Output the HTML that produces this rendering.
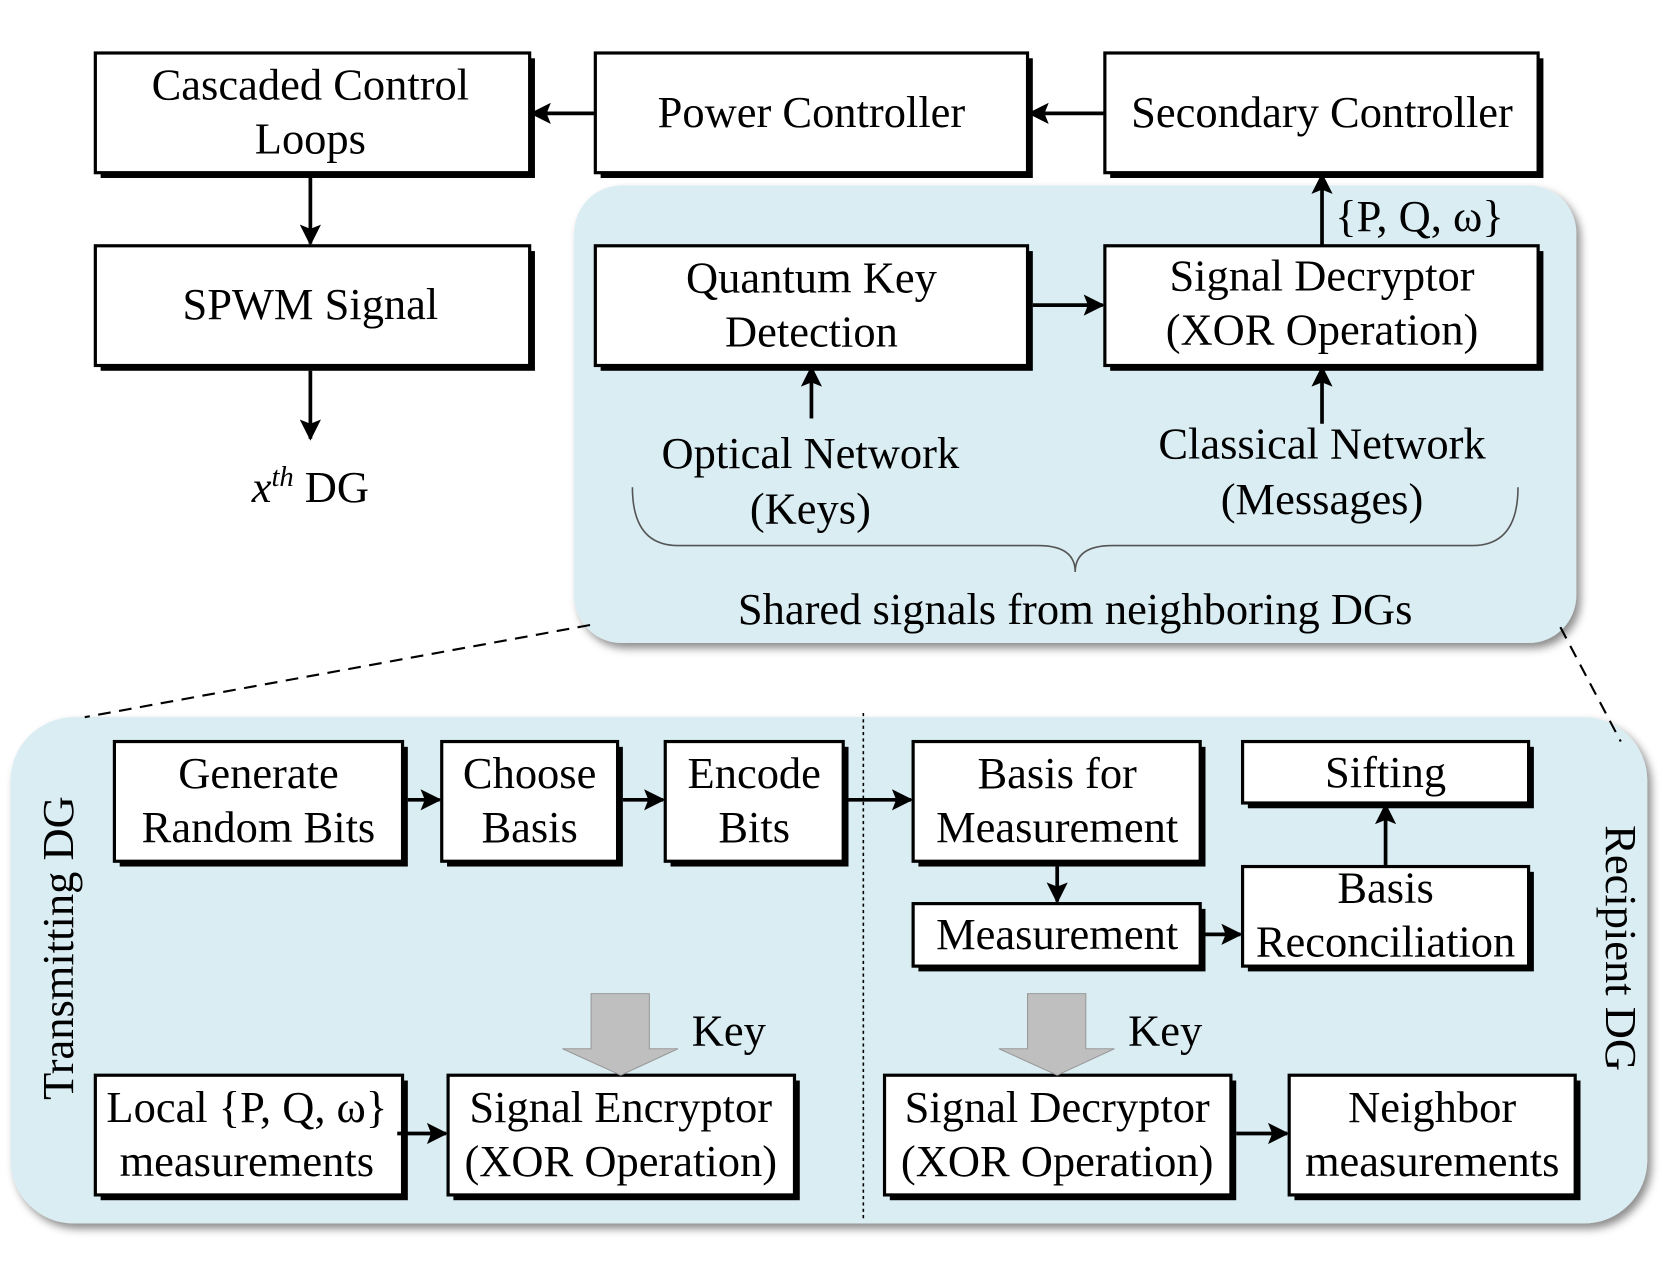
<!DOCTYPE html>
<html><head><meta charset="utf-8"><style>html,body{margin:0;padding:0;background:#fff}svg{display:block}</style></head>
<body>
<svg width="1661" height="1262" viewBox="0 0 1568 1191.3" xmlns="http://www.w3.org/2000/svg" font-family="'Liberation Serif', serif" font-size="42" text-anchor="middle">
<defs>
<filter id="sh" x="-5%" y="-5%" width="115%" height="115%"><feDropShadow dx="4" dy="5" stdDeviation="4" flood-color="#000" flood-opacity="0.45"/></filter>
<marker id="a2" viewBox="0 0 10 10" markerWidth="20" markerHeight="20" refX="9" refY="5" orient="auto" markerUnits="userSpaceOnUse"><path d="M0,0 L10,5 L0,10 L2,5 Z" fill="#000"/></marker>
</defs>
<rect x="542" y="175" width="946" height="432" rx="45" fill="#daedf3" filter="url(#sh)"/>
<rect x="10" y="677" width="1545" height="478" rx="60" fill="#daedf3" filter="url(#sh)"/>
<g stroke="#000" stroke-width="2" stroke-dasharray="12,8" fill="none">
<line x1="557" y1="590" x2="80" y2="677"/>
<line x1="1473" y1="592" x2="1530" y2="700"/>
</g>
<line x1="815" y1="673" x2="815" y2="1152" stroke="#000" stroke-width="1.5" stroke-dasharray="3,3"/>
<path d="M597,460 Q597,515 640,515 L980,515 Q1015,515 1015,540 Q1015,515 1050,515 L1390,515 Q1433,515 1433,460" fill="none" stroke="#555" stroke-width="1.5"/>
<g fill="#000">
<rect x="95" y="55" width="410" height="113"/><rect x="567" y="55" width="408" height="113"/><rect x="1048" y="55" width="409" height="113"/>
<rect x="95" y="237" width="410" height="113"/><rect x="567" y="237" width="408" height="113"/><rect x="1048" y="237" width="409" height="113"/>
<rect x="113" y="705" width="272" height="113"/><rect x="422" y="705" width="166" height="113"/><rect x="633" y="705" width="168" height="113"/>
<rect x="867" y="705" width="271" height="113"/><rect x="1178" y="705" width="270" height="58"/><rect x="1178" y="823" width="270" height="94"/>
<rect x="867" y="858" width="271" height="59"/>
<rect x="95" y="1020" width="290" height="113"/><rect x="428" y="1020" width="327" height="113"/>
<rect x="840" y="1020" width="327" height="113"/><rect x="1222" y="1020" width="270" height="113"/>
</g>
<g fill="#fff" stroke="#000" stroke-width="3">
<rect x="90" y="50" width="410" height="113"/><rect x="562" y="50" width="408" height="113"/><rect x="1043" y="50" width="409" height="113"/>
<rect x="90" y="232" width="410" height="113"/><rect x="562" y="232" width="408" height="113"/><rect x="1043" y="232" width="409" height="113"/>
<rect x="108" y="700" width="272" height="113"/><rect x="417" y="700" width="166" height="113"/><rect x="628" y="700" width="168" height="113"/>
<rect x="862" y="700" width="271" height="113"/><rect x="1173" y="700" width="270" height="58"/><rect x="1173" y="818" width="270" height="94"/>
<rect x="862" y="853" width="271" height="59"/>
<rect x="90" y="1015" width="290" height="113"/><rect x="423" y="1015" width="327" height="113"/>
<rect x="835" y="1015" width="327" height="113"/><rect x="1217" y="1015" width="270" height="113"/>
</g>
<g stroke="#000" stroke-width="3.5" fill="none" marker-end="url(#a2)">
<line x1="562" y1="107" x2="502" y2="107"/>
<line x1="1043" y1="107" x2="972" y2="107"/>
<line x1="293" y1="168" x2="293" y2="230"/>
<line x1="293" y1="350" x2="293" y2="414"/>
<line x1="1248" y1="232" x2="1248" y2="165"/>
<line x1="975" y1="288" x2="1041" y2="288"/>
<line x1="766" y1="395" x2="766" y2="347"/>
<line x1="1248" y1="400" x2="1248" y2="347"/>
<line x1="385" y1="755" x2="415" y2="755"/>
<line x1="588" y1="755" x2="626" y2="755"/>
<line x1="801" y1="755" x2="860" y2="755"/>
<line x1="998" y1="818" x2="998" y2="851"/>
<line x1="1138" y1="882" x2="1171" y2="882"/>
<line x1="1308" y1="818" x2="1308" y2="760"/>
<line x1="375" y1="1070" x2="421" y2="1070"/>
<line x1="1167" y1="1070" x2="1215" y2="1070"/>
</g>
<path d="M558,938 L613,938 L613,990 L640,990 L586,1015 L531,990 L558,990 Z" fill="#bfbfbf" stroke="#999" stroke-width="1"/>
<path d="M970,938 L1025,938 L1025,990 L1052,990 L998,1015 L943,990 L970,990 Z" fill="#bfbfbf" stroke="#999" stroke-width="1"/>
<g fill="#000">
<text x="293" y="94">Cascaded Control</text><text x="293" y="145">Loops</text>
<text x="766" y="120">Power Controller</text>
<text x="1248" y="120">Secondary Controller</text>
<text x="293" y="301">SPWM Signal</text>
<text x="293" y="474"><tspan font-style="italic">x</tspan><tspan font-style="italic" font-size="27" dy="-15">th</tspan><tspan dy="15"> DG</tspan></text>
<text x="1340" y="218">{P, Q, ω}</text>
<text x="766" y="276">Quantum Key</text><text x="766" y="327">Detection</text>
<text x="1248" y="274">Signal Decryptor</text><text x="1248" y="325">(XOR Operation)</text>
<text x="765" y="442">Optical Network</text><text x="765" y="494">(Keys)</text>
<text x="1248" y="433">Classical Network</text><text x="1248" y="485">(Messages)</text>
<text x="1015" y="589">Shared signals from neighboring DGs</text>
<text x="244" y="744">Generate</text><text x="244" y="795">Random Bits</text>
<text x="500" y="744">Choose</text><text x="500" y="795">Basis</text>
<text x="712" y="744">Encode</text><text x="712" y="795">Bits</text>
<text x="998" y="744">Basis for</text><text x="998" y="795">Measurement</text>
<text x="1308" y="743">Sifting</text>
<text x="1308" y="852">Basis</text><text x="1308" y="903">Reconciliation</text>
<text x="998" y="896">Measurement</text>
<text x="688" y="987">Key</text><text x="1100" y="987">Key</text>
<text x="233" y="1059">Local {P, Q, ω}</text><text x="233" y="1110">measurements</text>
<text x="586" y="1059">Signal Encryptor</text><text x="586" y="1110">(XOR Operation)</text>
<text x="998" y="1059">Signal Decryptor</text><text x="998" y="1110">(XOR Operation)</text>
<text x="1352" y="1059">Neighbor</text><text x="1352" y="1110">measurements</text>
<text transform="translate(69,895) rotate(-90)">Transmitting DG</text>
<text transform="translate(1516,895) rotate(90)">Recipient DG</text>
</g>
</svg>
</body></html>
